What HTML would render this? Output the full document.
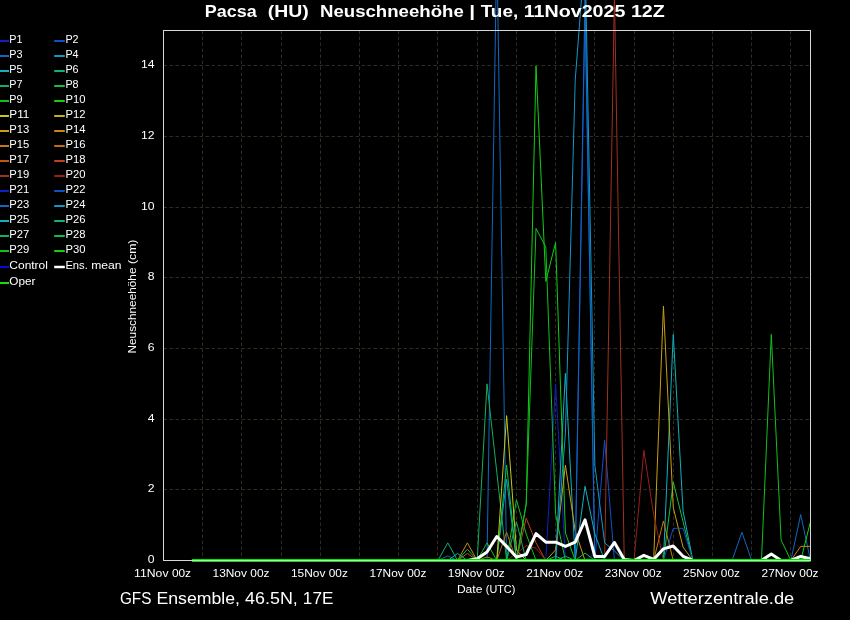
<!DOCTYPE html><html><head><meta charset="utf-8"><style>html,body{margin:0;padding:0;background:#000;width:850px;height:620px;overflow:hidden}svg{display:block;will-change:transform}text{font-family:"Liberation Sans",sans-serif;fill:#fff}</style></head><body>
<svg width="850" height="620" viewBox="0 0 850 620">
<rect width="850" height="620" fill="#000"/>
<path d="M202.5,30.5V560.5M241.5,30.5V560.5M281.5,30.5V560.5M320.5,30.5V560.5M359.5,30.5V560.5M398.5,30.5V560.5M437.5,30.5V560.5M477.5,30.5V560.5M516.5,30.5V560.5M555.5,30.5V560.5M594.5,30.5V560.5M634.5,30.5V560.5M673.5,30.5V560.5M712.5,30.5V560.5M751.5,30.5V560.5M790.5,30.5V560.5M163.5,489.5H810.5M163.5,419.5H810.5M163.5,348.5H810.5M163.5,277.5H810.5M163.5,207.5H810.5M163.5,136.5H810.5M163.5,65.5H810.5" stroke="#2e2c21" stroke-width="1" stroke-dasharray="3.5 2.5" fill="none"/>
<g fill="none" stroke-width="1" stroke-linejoin="miter">
<path d="M545.82,560.50 L555.62,383.83 L565.42,560.50" stroke="#1020c0"/>
<path d="M594.83,560.50 L604.64,440.37 L614.44,560.50" stroke="#1050c8"/>
<path d="M487.00,560.50 L496.80,-54.30 L506.61,560.50" stroke="#1068c0"/>
<path d="M732.08,560.50 L741.88,532.23 L751.68,560.50" stroke="#1068c0"/>
<path d="M790.89,560.50 L800.70,514.57 L810.50,560.50" stroke="#1068c0"/>
<path d="M496.80,560.50 L506.61,479.23 L516.41,560.50" stroke="#1098c8"/>
<path d="M555.62,560.50 L565.42,373.23 L575.23,560.50" stroke="#10b0c0"/>
<path d="M663.45,560.50 L673.26,334.37 L683.06,511.03 L692.86,560.50" stroke="#10b0c0"/>
<path d="M437.98,560.50 L447.79,542.83 L457.59,560.50" stroke="#10b080"/>
<path d="M555.62,560.50 L565.42,556.26 L575.23,560.50" stroke="#10b080"/>
<path d="M477.20,560.50 L487.00,383.83 L496.80,472.17 L506.61,560.50" stroke="#10b060"/>
<path d="M496.80,560.50 L506.61,465.10 L516.41,560.50" stroke="#10c040"/>
<path d="M663.45,560.50 L673.26,482.06 L683.06,521.63 L692.86,560.50" stroke="#10c040"/>
<path d="M506.61,560.50 L516.41,499.73 L526.21,534.00 L536.02,560.50" stroke="#10c020"/>
<path d="M761.48,560.50 L771.29,334.37 L781.09,540.01 L790.89,560.50" stroke="#10c020"/>
<path d="M516.41,560.50 L526.21,503.97 L536.02,65.83 L545.82,281.37 L555.62,242.50 L565.42,532.94 L575.23,560.50" stroke="#10d010"/>
<path d="M496.80,560.50 L506.61,415.63 L516.41,549.90 L526.21,560.50" stroke="#c8c810"/>
<path d="M545.82,560.50 L555.62,549.90 L565.42,465.10 L575.23,531.17 L585.03,560.50" stroke="#c8a010"/>
<path d="M653.65,560.50 L663.45,306.10 L673.26,507.50 L683.06,547.07 L692.86,560.50" stroke="#c8a010"/>
<path d="M457.59,560.50 L467.39,542.83 L477.20,560.50" stroke="#c88810"/>
<path d="M790.89,560.50 L800.70,546.37 L810.50,546.37" stroke="#c88810"/>
<path d="M477.20,560.50 L487.00,556.97 L496.80,560.50" stroke="#c87810"/>
<path d="M653.65,560.50 L663.45,520.93 L673.26,560.50" stroke="#c87810"/>
<path d="M496.80,560.50 L506.61,532.23 L516.41,560.50" stroke="#c86810"/>
<path d="M457.59,560.50 L467.39,553.43 L477.20,560.50" stroke="#c05810"/>
<path d="M516.41,560.50 L526.21,518.10 L536.02,542.83 L545.82,560.50" stroke="#c04020"/>
<path d="M604.64,560.50 L614.44,-4.83 L624.24,560.50" stroke="#a03020"/>
<path d="M506.61,560.50 L516.41,553.43 L526.21,545.66 L536.02,548.13 L545.82,560.50" stroke="#982018"/>
<path d="M634.05,560.50 L643.85,450.26 L653.65,514.57 L663.45,560.50" stroke="#982018"/>
<path d="M585.03,560.50 L594.83,553.43 L604.64,560.50" stroke="#1020c0"/>
<path d="M575.23,560.50 L585.03,12.83 L594.83,560.50" stroke="#1050c8"/>
<path d="M663.45,560.50 L673.26,528.35 L683.06,528.35 L692.86,560.50" stroke="#1050c8"/>
<path d="M437.98,560.50 L447.79,555.91 L457.59,560.50" stroke="#1068c0"/>
<path d="M575.23,560.50 L585.03,-4.83 L594.83,560.50" stroke="#1068c0"/>
<path d="M555.62,560.50 L565.42,433.30 L575.23,79.97 L585.03,-47.23 L594.83,465.10 L604.64,542.83 L614.44,550.96 L624.24,560.50" stroke="#1098c8"/>
<path d="M447.79,560.50 L457.59,553.43 L467.39,560.50" stroke="#10b0c0"/>
<path d="M575.23,560.50 L585.03,486.30 L594.83,534.00 L604.64,560.50" stroke="#10b0c0"/>
<path d="M545.82,560.50 L555.62,556.26 L565.42,560.50" stroke="#10b080"/>
<path d="M506.61,560.50 L516.41,521.63 L526.21,560.50" stroke="#10b060"/>
<path d="M457.59,560.50 L467.39,549.19 L477.20,560.50" stroke="#10c040"/>
<path d="M575.23,560.50 L585.03,553.08 L594.83,560.50" stroke="#10c040"/>
<path d="M477.20,560.50 L487.00,542.83 L496.80,560.50" stroke="#10c020"/>
<path d="M516.41,560.50 L526.21,503.97 L536.02,228.37 L545.82,247.09 L555.62,514.57 L565.42,560.50" stroke="#10c020"/>
<path d="M800.70,560.50 L810.50,521.63" stroke="#10d010"/>
</g>
<path d="M192.91,560.50 L202.71,560.50 L212.52,560.50 L222.32,560.50 L232.12,560.50 L241.92,560.50 L251.73,560.50 L261.53,560.50 L271.33,560.50 L281.14,560.50 L290.94,560.50 L300.74,560.50 L310.55,560.50 L320.35,560.50 L330.15,560.50 L339.95,560.50 L349.76,560.50 L359.56,560.50 L369.36,560.50 L379.17,560.50 L388.97,560.50 L398.77,560.50 L408.58,560.50 L418.38,560.50 L428.18,560.50 L437.98,560.50 L447.79,560.50 L457.59,560.50 L467.39,560.50 L477.20,558.73 L487.00,552.02 L496.80,536.47 L506.61,546.37 L516.41,556.97 L526.21,554.49 L536.02,533.65 L545.82,542.13 L555.62,542.13 L565.42,546.37 L575.23,542.13 L585.03,519.87 L594.83,556.51 L604.64,556.51 L614.44,542.48 L624.24,559.44 L634.05,560.50 L643.85,555.38 L653.65,559.44 L663.45,548.84 L673.26,546.01 L683.06,556.26 L692.86,560.50 L702.67,560.50 L712.47,560.50 L722.27,560.50 L732.08,560.50 L741.88,560.50 L751.68,560.50 L761.48,560.50 L771.29,553.96 L781.09,560.50 L790.89,560.50 L800.70,556.44 L810.50,558.73" fill="none" stroke="#ffffff" stroke-width="3" stroke-linejoin="round"/>
<path d="M191.91,560.50H810.50" stroke="#00e600" stroke-width="3" fill="none"/>
<rect x="163.5" y="30.5" width="647.0" height="530.0" fill="none" stroke="#d8d8d8" stroke-width="1"/>
<path d="M-2.0,41.00H9.0" stroke="#1020c0" stroke-width="2" fill="none"/>
<g font-size="11.30"><text x="9.35" y="43.00" textLength="13.22" lengthAdjust="spacingAndGlyphs">P1</text></g>
<path d="M54.2,41.00H64.8" stroke="#1050c8" stroke-width="2" fill="none"/>
<g font-size="11.30"><text x="65.40" y="43.00" textLength="13.22" lengthAdjust="spacingAndGlyphs">P2</text></g>
<path d="M-2.0,56.00H9.0" stroke="#1068c0" stroke-width="2" fill="none"/>
<g font-size="11.30"><text x="9.35" y="58.00" textLength="13.22" lengthAdjust="spacingAndGlyphs">P3</text></g>
<path d="M54.2,56.00H64.8" stroke="#1098c8" stroke-width="2" fill="none"/>
<g font-size="11.30"><text x="65.40" y="58.00" textLength="13.22" lengthAdjust="spacingAndGlyphs">P4</text></g>
<path d="M-2.0,71.00H9.0" stroke="#10b0c0" stroke-width="2" fill="none"/>
<g font-size="11.30"><text x="9.35" y="73.00" textLength="13.22" lengthAdjust="spacingAndGlyphs">P5</text></g>
<path d="M54.2,71.00H64.8" stroke="#10b080" stroke-width="2" fill="none"/>
<g font-size="11.30"><text x="65.40" y="73.00" textLength="13.22" lengthAdjust="spacingAndGlyphs">P6</text></g>
<path d="M-2.0,86.00H9.0" stroke="#10b060" stroke-width="2" fill="none"/>
<g font-size="11.30"><text x="9.35" y="88.00" textLength="13.22" lengthAdjust="spacingAndGlyphs">P7</text></g>
<path d="M54.2,86.00H64.8" stroke="#10c040" stroke-width="2" fill="none"/>
<g font-size="11.30"><text x="65.40" y="88.00" textLength="13.22" lengthAdjust="spacingAndGlyphs">P8</text></g>
<path d="M-2.0,101.00H9.0" stroke="#10c020" stroke-width="2" fill="none"/>
<g font-size="11.30"><text x="9.35" y="103.00" textLength="13.22" lengthAdjust="spacingAndGlyphs">P9</text></g>
<path d="M54.2,101.00H64.8" stroke="#10d010" stroke-width="2" fill="none"/>
<g font-size="11.30"><text x="65.40" y="103.00" textLength="20.01" lengthAdjust="spacingAndGlyphs">P10</text></g>
<path d="M-2.0,116.00H9.0" stroke="#c8c810" stroke-width="2" fill="none"/>
<g font-size="11.30"><text x="9.35" y="118.00" textLength="20.01" lengthAdjust="spacingAndGlyphs">P11</text></g>
<path d="M54.2,116.00H64.8" stroke="#c8b010" stroke-width="2" fill="none"/>
<g font-size="11.30"><text x="65.40" y="118.00" textLength="20.01" lengthAdjust="spacingAndGlyphs">P12</text></g>
<path d="M-2.0,131.00H9.0" stroke="#c8a010" stroke-width="2" fill="none"/>
<g font-size="11.30"><text x="9.35" y="133.00" textLength="20.01" lengthAdjust="spacingAndGlyphs">P13</text></g>
<path d="M54.2,131.00H64.8" stroke="#c88810" stroke-width="2" fill="none"/>
<g font-size="11.30"><text x="65.40" y="133.00" textLength="20.01" lengthAdjust="spacingAndGlyphs">P14</text></g>
<path d="M-2.0,146.00H9.0" stroke="#c87810" stroke-width="2" fill="none"/>
<g font-size="11.30"><text x="9.35" y="148.00" textLength="20.01" lengthAdjust="spacingAndGlyphs">P15</text></g>
<path d="M54.2,146.00H64.8" stroke="#c86810" stroke-width="2" fill="none"/>
<g font-size="11.30"><text x="65.40" y="148.00" textLength="20.01" lengthAdjust="spacingAndGlyphs">P16</text></g>
<path d="M-2.0,161.00H9.0" stroke="#c05810" stroke-width="2" fill="none"/>
<g font-size="11.30"><text x="9.35" y="163.00" textLength="20.01" lengthAdjust="spacingAndGlyphs">P17</text></g>
<path d="M54.2,161.00H64.8" stroke="#c04020" stroke-width="2" fill="none"/>
<g font-size="11.30"><text x="65.40" y="163.00" textLength="20.01" lengthAdjust="spacingAndGlyphs">P18</text></g>
<path d="M-2.0,176.00H9.0" stroke="#a03020" stroke-width="2" fill="none"/>
<g font-size="11.30"><text x="9.35" y="178.00" textLength="20.01" lengthAdjust="spacingAndGlyphs">P19</text></g>
<path d="M54.2,176.00H64.8" stroke="#982018" stroke-width="2" fill="none"/>
<g font-size="11.30"><text x="65.40" y="178.00" textLength="20.01" lengthAdjust="spacingAndGlyphs">P20</text></g>
<path d="M-2.0,191.00H9.0" stroke="#1020c0" stroke-width="2" fill="none"/>
<g font-size="11.30"><text x="9.35" y="193.00" textLength="20.01" lengthAdjust="spacingAndGlyphs">P21</text></g>
<path d="M54.2,191.00H64.8" stroke="#1050c8" stroke-width="2" fill="none"/>
<g font-size="11.30"><text x="65.40" y="193.00" textLength="20.01" lengthAdjust="spacingAndGlyphs">P22</text></g>
<path d="M-2.0,206.00H9.0" stroke="#1068c0" stroke-width="2" fill="none"/>
<g font-size="11.30"><text x="9.35" y="208.00" textLength="20.01" lengthAdjust="spacingAndGlyphs">P23</text></g>
<path d="M54.2,206.00H64.8" stroke="#1098c8" stroke-width="2" fill="none"/>
<g font-size="11.30"><text x="65.40" y="208.00" textLength="20.01" lengthAdjust="spacingAndGlyphs">P24</text></g>
<path d="M-2.0,221.00H9.0" stroke="#10b0c0" stroke-width="2" fill="none"/>
<g font-size="11.30"><text x="9.35" y="223.00" textLength="20.01" lengthAdjust="spacingAndGlyphs">P25</text></g>
<path d="M54.2,221.00H64.8" stroke="#10b080" stroke-width="2" fill="none"/>
<g font-size="11.30"><text x="65.40" y="223.00" textLength="20.01" lengthAdjust="spacingAndGlyphs">P26</text></g>
<path d="M-2.0,236.00H9.0" stroke="#10b060" stroke-width="2" fill="none"/>
<g font-size="11.30"><text x="9.35" y="238.00" textLength="20.01" lengthAdjust="spacingAndGlyphs">P27</text></g>
<path d="M54.2,236.00H64.8" stroke="#10c040" stroke-width="2" fill="none"/>
<g font-size="11.30"><text x="65.40" y="238.00" textLength="20.01" lengthAdjust="spacingAndGlyphs">P28</text></g>
<path d="M-2.0,251.00H9.0" stroke="#10c020" stroke-width="2" fill="none"/>
<g font-size="11.30"><text x="9.35" y="253.00" textLength="20.01" lengthAdjust="spacingAndGlyphs">P29</text></g>
<path d="M54.2,251.00H64.8" stroke="#10d010" stroke-width="2" fill="none"/>
<g font-size="11.30"><text x="65.40" y="253.00" textLength="20.01" lengthAdjust="spacingAndGlyphs">P30</text></g>
<path d="M-2.0,267.00H9.0" stroke="#0808f0" stroke-width="2" fill="none"/>
<g font-size="11.30"><text x="9.35" y="269.00" textLength="38.56" lengthAdjust="spacingAndGlyphs">Control</text></g>
<path d="M54.2,267.00H64.8" stroke="#ffffff" stroke-width="2.5" fill="none"/>
<g font-size="11.30"><text x="65.40" y="269.00" textLength="22.45" lengthAdjust="spacingAndGlyphs">Ens.</text><text x="91.24" y="269.00" textLength="30.25" lengthAdjust="spacingAndGlyphs">mean</text></g>
<path d="M-2.0,283.00H9.0" stroke="#10e010" stroke-width="2" fill="none"/>
<g font-size="11.30"><text x="9.35" y="285.00" textLength="26.12" lengthAdjust="spacingAndGlyphs">Oper</text></g>
<g font-size="11.30"><text x="147.71" y="563.00" textLength="6.79" lengthAdjust="spacingAndGlyphs">0</text></g>
<g font-size="11.30"><text x="147.71" y="492.00" textLength="6.79" lengthAdjust="spacingAndGlyphs">2</text></g>
<g font-size="11.30"><text x="147.71" y="422.00" textLength="6.79" lengthAdjust="spacingAndGlyphs">4</text></g>
<g font-size="11.30"><text x="147.71" y="351.00" textLength="6.79" lengthAdjust="spacingAndGlyphs">6</text></g>
<g font-size="11.30"><text x="147.71" y="280.00" textLength="6.79" lengthAdjust="spacingAndGlyphs">8</text></g>
<g font-size="11.30"><text x="140.93" y="210.00" textLength="13.57" lengthAdjust="spacingAndGlyphs">10</text></g>
<g font-size="11.30"><text x="140.93" y="139.00" textLength="13.57" lengthAdjust="spacingAndGlyphs">12</text></g>
<g font-size="11.30"><text x="140.93" y="68.00" textLength="13.57" lengthAdjust="spacingAndGlyphs">14</text></g>
<g font-size="11.30"><text x="134.12" y="577.00" textLength="34.39" lengthAdjust="spacingAndGlyphs">11Nov</text><text x="171.90" y="577.00" textLength="19.17" lengthAdjust="spacingAndGlyphs">00z</text></g>
<g font-size="11.30"><text x="212.55" y="577.00" textLength="34.39" lengthAdjust="spacingAndGlyphs">13Nov</text><text x="250.33" y="577.00" textLength="19.17" lengthAdjust="spacingAndGlyphs">00z</text></g>
<g font-size="11.30"><text x="290.97" y="577.00" textLength="34.39" lengthAdjust="spacingAndGlyphs">15Nov</text><text x="328.75" y="577.00" textLength="19.17" lengthAdjust="spacingAndGlyphs">00z</text></g>
<g font-size="11.30"><text x="369.40" y="577.00" textLength="34.39" lengthAdjust="spacingAndGlyphs">17Nov</text><text x="407.18" y="577.00" textLength="19.17" lengthAdjust="spacingAndGlyphs">00z</text></g>
<g font-size="11.30"><text x="447.82" y="577.00" textLength="34.39" lengthAdjust="spacingAndGlyphs">19Nov</text><text x="485.60" y="577.00" textLength="19.17" lengthAdjust="spacingAndGlyphs">00z</text></g>
<g font-size="11.30"><text x="526.24" y="577.00" textLength="34.39" lengthAdjust="spacingAndGlyphs">21Nov</text><text x="564.03" y="577.00" textLength="19.17" lengthAdjust="spacingAndGlyphs">00z</text></g>
<g font-size="11.30"><text x="604.67" y="577.00" textLength="34.39" lengthAdjust="spacingAndGlyphs">23Nov</text><text x="642.45" y="577.00" textLength="19.17" lengthAdjust="spacingAndGlyphs">00z</text></g>
<g font-size="11.30"><text x="683.09" y="577.00" textLength="34.39" lengthAdjust="spacingAndGlyphs">25Nov</text><text x="720.87" y="577.00" textLength="19.17" lengthAdjust="spacingAndGlyphs">00z</text></g>
<g font-size="11.30"><text x="761.52" y="577.00" textLength="34.39" lengthAdjust="spacingAndGlyphs">27Nov</text><text x="799.30" y="577.00" textLength="19.17" lengthAdjust="spacingAndGlyphs">00z</text></g>
<g font-size="11.30"><text x="456.92" y="593.00" textLength="25.50" lengthAdjust="spacingAndGlyphs">Date</text><text x="485.81" y="593.00" textLength="29.47" lengthAdjust="spacingAndGlyphs">(UTC)</text></g>
<g font-size="11.30" transform="translate(136,296.5) rotate(-90)"><text x="-56.98" y="0.00" textLength="85.98" lengthAdjust="spacingAndGlyphs">Neuschneehöhe</text><text x="32.40" y="0.00" textLength="24.58" lengthAdjust="spacingAndGlyphs">(cm)</text></g>
<g font-size="16.90" font-weight="bold"><text x="204.80" y="16.90" textLength="51.90" lengthAdjust="spacingAndGlyphs">Pacsa</text><text x="267.84" y="16.90" textLength="41.01" lengthAdjust="spacingAndGlyphs">(HU)</text><text x="319.99" y="16.90" textLength="143.75" lengthAdjust="spacingAndGlyphs">Neuschneehöhe</text><text x="469.31" y="16.90" textLength="5.84" lengthAdjust="spacingAndGlyphs">|</text><text x="480.72" y="16.90" textLength="37.48" lengthAdjust="spacingAndGlyphs">Tue,</text><text x="523.77" y="16.90" textLength="101.61" lengthAdjust="spacingAndGlyphs">11Nov2025</text><text x="630.95" y="16.90" textLength="33.87" lengthAdjust="spacingAndGlyphs">12Z</text></g>
<g font-size="16.90" style="fill:#eeeeee"><text x="119.90" y="604.00" textLength="31.48" lengthAdjust="spacingAndGlyphs">GFS</text><text x="156.46" y="604.00" textLength="83.55" lengthAdjust="spacingAndGlyphs">Ensemble,</text><text x="245.10" y="604.00" textLength="52.68" lengthAdjust="spacingAndGlyphs">46.5N,</text><text x="302.86" y="604.00" textLength="30.47" lengthAdjust="spacingAndGlyphs">17E</text></g>
<g font-size="16.90" style="fill:#eeeeee"><text x="650.20" y="604.00" textLength="144.11" lengthAdjust="spacingAndGlyphs">Wetterzentrale.de</text></g>
</svg></body></html>
